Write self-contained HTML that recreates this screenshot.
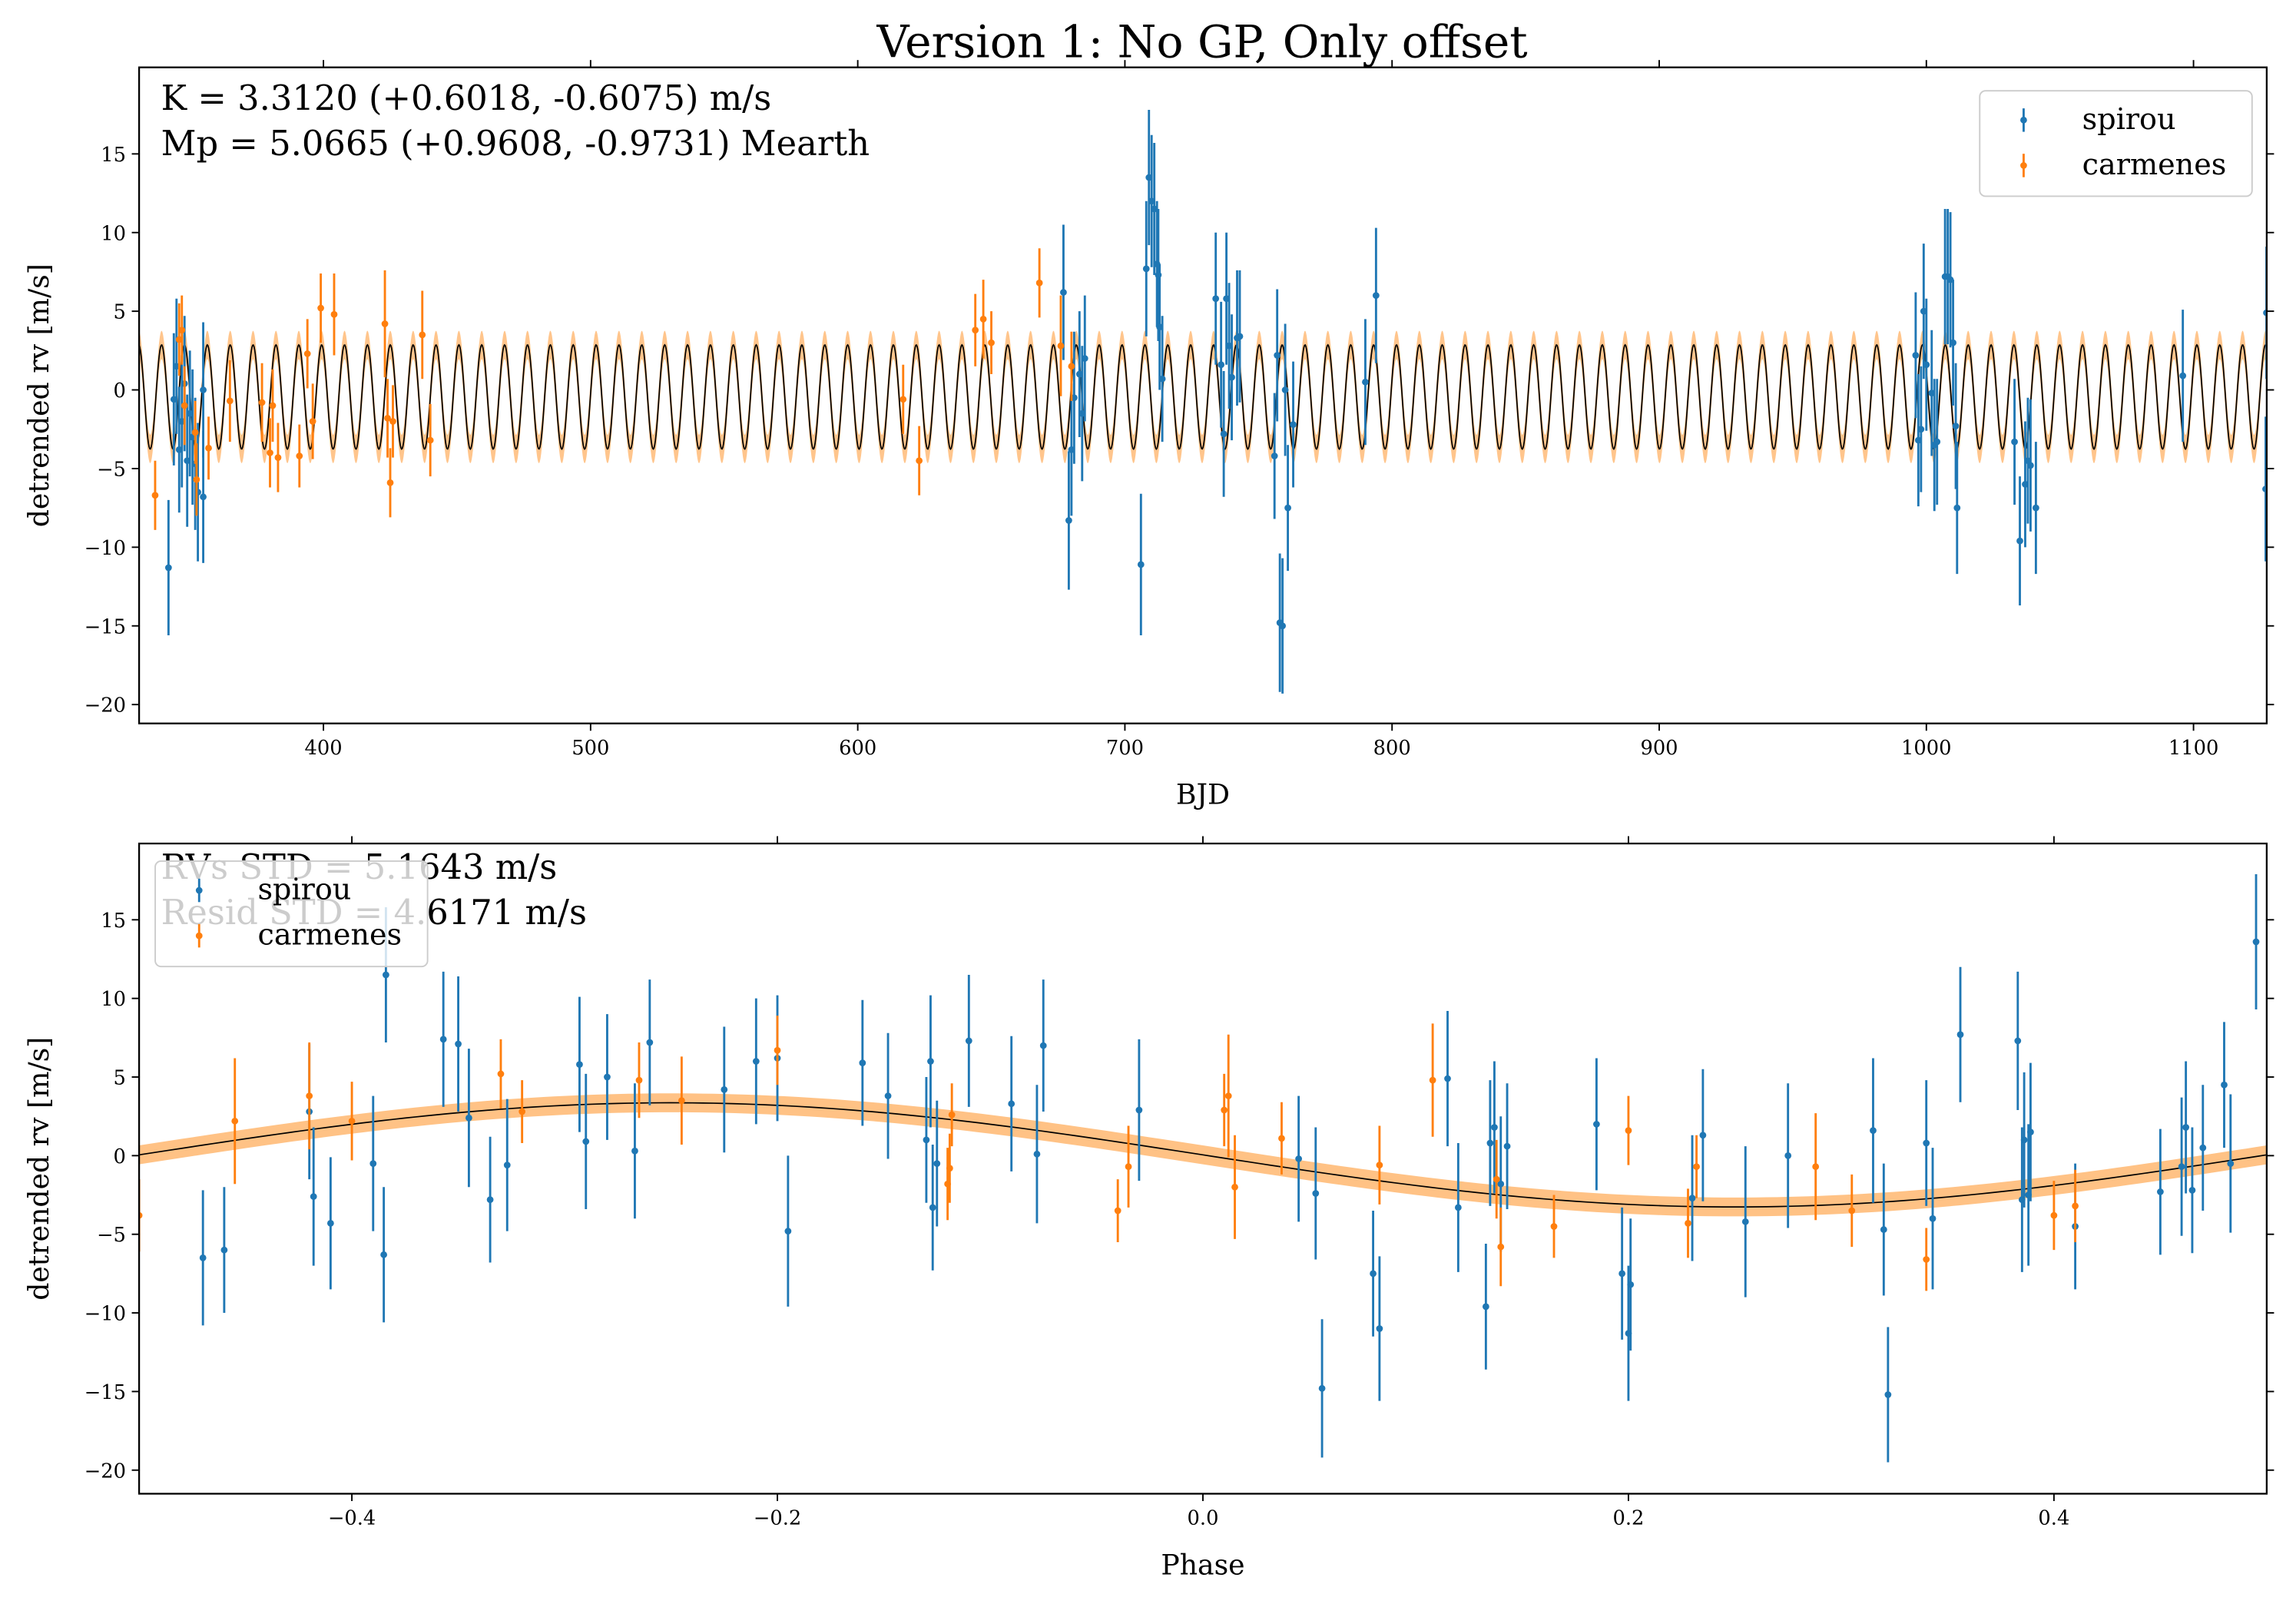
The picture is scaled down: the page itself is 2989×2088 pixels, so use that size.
<!DOCTYPE html>
<html><head><meta charset="utf-8">
<style>
html,body{margin:0;padding:0;background:#fff;}
svg{display:block;font-family:"DejaVu Serif","Liberation Serif",serif;}
</style></head>
<body>
<svg id="chart" width="2989" height="2088" viewBox="0 0 1568 1095.3" preserveAspectRatio="none" xmlns="http://www.w3.org/2000/svg">
<rect width="1568" height="1096" fill="#fff"/>
<text x="821" y="39" font-size="30.5" text-anchor="middle">Version 1: No GP, Only offset</text>
<g id="top"></g>
<g id="bot"></g>
</svg>
<script>
// ---- data ----
const xTicksTop = [400,500,600,700,800,900,1000,1100];
const yTicks = [15,10,5,0,-5,-10,-15,-20];
const xTicksPhase = [-0.4,-0.2,0.0,0.2,0.4];
const modelK = 3.312;
const modelOffset = -0.45;
const modelPeriod = 8.56;
const modelT0 = 333.0;
// spirou time series [BJD, rv, err]
const spirouTime = [[342,-11.3,4.3],[344,-0.6,4.2],[345,1.5,4.3],[346,-3.8,4],[347,-2,4.2],[348,0.4,4.3],[349,-4.5,4.2],[350,-1.5,4],[351,-3,4.3],[352,-4.7,4.2],[353,-6.5,4.4],[355,0,4.3],[355,-6.8,4.2],
[677,6.2,4.3],[679,-8.3,4.4],[680,-3.8,4.2],[681,-0.5,4.2],[683,1,4],[684,-1.5,4.3],[685,2,4],[706,-11.1,4.5],[708,7.7,4.3],[709,13.5,4.3],[710,12,4.2],[711,11.5,4.2],[712,8,4],[712.5,7.3,4.2],[713,4,4],[714,0.7,4],
[734,5.8,4.2],[736,1.6,4],[737,-2.8,4],[738,5.8,4.2],[739,2.8,4],[740,0.8,4],[742,3.3,4.3],[743,3.4,4.2],[756,-4.2,4],[757,2.2,4.2],[758,-14.8,4.4],[759,-15,4.3],[760,0,4.2],[761,-7.5,4],[763,-2.2,4],[790,0.5,4],[794,6,4.3],
[996,2.2,4],[997,-3.2,4.2],[998,-2.5,4],[999,5,4.3],[1000,1.6,4.2],[1002,-0.2,4],[1003,-3.5,4.2],[1004,-3.3,4],[1007,7.2,4.3],[1008,7.2,4.3],[1009,7,4.3],[1010,3,4],[1011,-2.3,4],[1011.5,-7.5,4.2],
[1033,-3.3,4],[1035,-9.6,4.1],[1037,-6,4],[1038,-4.5,4],[1039,-4.8,4.2],[1041,-7.5,4.2],[1096,0.9,4.2],[1127,-6.3,4.6],[1127.3,4.9,4.2]];
const carmenesTime = [[337,-6.7,2.2],[346,3.2,2.3],[347,3.8,2.2],[348,-1,2.5],[352,-2.7,2],[352.5,-5.7,2.3],[357,-3.7,2],[365,-0.7,2.6],[377,-0.8,2.5],[380,-4,2.2],[381,-1,2.3],[383,-4.3,2.2],[391,-4.2,2],[394,2.3,2.2],[396,-2,2.4],[399,5.2,2.2],[404,4.8,2.6],[423,4.2,3.4],[424,-1.8,2.5],[425,-5.9,2.2],[426,-2,2.3],[437,3.5,2.8],[440,-3.2,2.3],[617,-0.6,2.2],[623,-4.5,2.2],[644,3.8,2.3],[647,4.5,2.5],[650,3,2],[668,6.8,2.2],[676,2.8,3.2],[680,1.5,2.2]];
// phase-folded [phase, rv, err]
const spirouPhase = [[-0.47,-6.5,4.3],[-0.46,-6,4],[-0.42,2.8,4.3],[-0.418,-2.6,4.4],[-0.41,-4.3,4.2],[-0.39,-0.5,4.3],[-0.385,-6.3,4.3],[-0.384,11.5,4.3],[-0.357,7.4,4.3],[-0.35,7.1,4.3],[-0.345,2.4,4.4],[-0.335,-2.8,4],[-0.327,-0.6,4.2],[-0.293,5.8,4.3],[-0.29,0.9,4.3],[-0.28,5,4],[-0.267,0.3,4.3],[-0.26,7.2,4],[-0.225,4.2,4],[-0.21,6,4],[-0.2,6.2,4],[-0.195,-4.8,4.8],[-0.16,5.9,4],[-0.148,3.8,4],[-0.13,1,4],[-0.128,6,4.2],[-0.127,-3.3,4],[-0.125,-0.5,4],[-0.11,7.3,4.2],[-0.09,3.3,4.3],[-0.078,0.1,4.4],[-0.075,7,4.2],[-0.03,2.9,4.5],[0.045,-0.2,4],[0.053,-2.4,4.2],[0.056,-14.8,4.4],[0.08,-7.5,4],[0.083,-11,4.6],[0.115,4.9,4.3],[0.12,-3.3,4.1],[0.133,-9.6,4],[0.135,0.8,4],[0.137,1.8,4.2],[0.14,-1.8,4.3],[0.143,0.6,4],[0.185,2,4.2],[0.197,-7.5,4.2],[0.2,-11.3,4.3],[0.201,-8.2,4.2],[0.23,-2.7,4],[0.235,1.3,4.2],[0.255,-4.2,4.8],[0.275,0,4.6],[0.315,1.6,4.6],[0.32,-4.7,4.2],[0.322,-15.2,4.3],[0.34,0.8,4],[0.343,-4,4.5],[0.356,7.7,4.3],[0.383,7.3,4.4],[0.385,-2.8,4.6],[0.386,1,4.3],[0.388,-2.5,4.5],[0.389,1.5,4.4],[0.41,-4.5,4],[0.45,-2.3,4],[0.46,-0.7,4.4],[0.462,1.8,4.2],[0.465,-2.2,4],[0.47,0.5,4],[0.48,4.5,4],[0.483,-0.5,4.4],[0.495,13.6,4.3]];
const carmenesPhase = [[-0.5,-3.8,2.3],[-0.455,2.2,4],[-0.42,3.8,3.4],[-0.4,2.2,2.5],[-0.33,5.2,2.2],[-0.32,2.8,2],[-0.265,4.8,2.4],[-0.245,3.5,2.8],[-0.2,6.7,2.2],[-0.12,-1.8,2.3],[-0.119,-0.8,2.2],[-0.118,2.6,2],[-0.04,-3.5,2],[-0.035,-0.7,2.6],[0.01,2.9,2.3],[0.012,3.8,3.9],[0.015,-2,3.3],[0.037,1.1,2.3],[0.083,-0.6,2.5],[0.108,4.8,3.6],[0.138,-1.5,2.5],[0.14,-5.8,2.5],[0.165,-4.5,2],[0.2,1.6,2.2],[0.228,-4.3,2.2],[0.232,-0.7,2],[0.288,-0.7,3.4],[0.305,-3.5,2.3],[0.34,-6.6,2],[0.4,-3.8,2.2],[0.41,-3.2,2.3]];

const NS='http://www.w3.org/2000/svg';
const BLUE='#1f77b4', ORANGE='#ff7f0e';
function mk(parent,tag,attrs,text){const e=document.createElementNS(NS,tag);for(const k in attrs)e.setAttribute(k,attrs[k]);if(text!==undefined)e.textContent=text;parent.appendChild(e);return e;}

function panel(g, box, xmin, xmax, ymin, ymax, xTicks, xFmt, xLabel){
  const X=v=>box.l+(v-xmin)/(xmax-xmin)*(box.r-box.l);
  const Y=v=>box.b-(v-ymin)/(ymax-ymin)*(box.b-box.t);
  const tg=mk(g,'g',{});
  
  
  xTicks.forEach(v=>{const x=X(v);
    mk(tg,'line',{x1:x,x2:x,y1:box.b,y2:box.b+5,stroke:'#000','stroke-width':1});
    mk(tg,'line',{x1:x,x2:x,y1:box.t,y2:box.t-5,stroke:'#000','stroke-width':1});
    const t=mk(tg,'text',{x:x,y:box.b+21,'font-size':13.5,'text-anchor':'middle'},xFmt(v));
    
    
  });
  yTicks.forEach(v=>{const y=Y(v);
    mk(tg,'line',{x1:box.l,x2:box.l-5,y1:y,y2:y,stroke:'#000','stroke-width':1});
    mk(tg,'line',{x1:box.r,x2:box.r+5,y1:y,y2:y,stroke:'#000','stroke-width':1});
    const t=mk(tg,'text',{x:box.l-9,y:y+5,'font-size':13.5,'text-anchor':'end'},v<0?'\u2212'+(-v):String(v));
    
    
  });
  const xl=mk(g,'text',{x:(box.l+box.r)/2,y:box.b+55,'font-size':19,'text-anchor':'middle'},xLabel);
  
  
  const cy=(box.t+box.b)/2;
  const yl=mk(g,'text',{x:33,y:cy,'font-size':19,'text-anchor':'middle',transform:`rotate(-90 33 ${cy})`},'detrended rv [m/s]');
  
  
  return {X,Y};
}

function errPoints(g, data, X, Y, color, name, box){
  const sg=mk(g,'g',{'clip-path':`url(#${box.clip})`});
  
  
  data.forEach(d=>{const x=X(d[0]);
    const l=mk(sg,'line',{x1:x,x2:x,y1:Y(d[1]-d[2]),y2:Y(d[1]+d[2]),stroke:color,'stroke-width':1.5});
    
    
    const c=mk(sg,'circle',{cx:x,cy:Y(d[1]),r:2.3,fill:color});
    
    
  });
}

function legend(g, x, y, alpha){
  const lg=mk(g,'g',{});
  
  
  mk(lg,'rect',{x:x,y:y,width:186,height:72,rx:4,fill:'#fff','fill-opacity':alpha,stroke:'#ccc','stroke-width':1});
  [['spirou',BLUE],['carmenes',ORANGE]].forEach((s,i)=>{
    const e=mk(lg,'g',{});
    
    
    const cy=y+20+i*31;
    mk(e,'line',{x1:x+30,x2:x+30,y1:cy-8,y2:cy+8,stroke:s[1],'stroke-width':1.5});
    mk(e,'circle',{cx:x+30,cy:cy,r:2.3,fill:s[1]});
    mk(e,'text',{x:x+70,y:cy+6,'font-size':20},s[0]);
  });
}

const defs=mk(document.getElementById('chart'),'defs',{});
const c1=mk(defs,'clipPath',{id:'clipTop'});mk(c1,'rect',{x:95,y:46,width:1453,height:448});
const c2=mk(defs,'clipPath',{id:'clipBot'});mk(c2,'rect',{x:95,y:576,width:1453,height:444});

// ---- top panel ----
(function(){
  const g=document.getElementById('top');
  
  
  const box={l:95,r:1548,t:46,b:494,clip:'clipTop'};
  const {X,Y}=panel(g,box,331,1127.4,-21.2,20.5,xTicksTop,v=>String(v),'BJD');
  const model=t=>-modelK*Math.sin(2*Math.PI*(t-modelT0)/modelPeriod)+modelOffset;
  let up=[],dn=[],ln=[];
  for(let t=331;t<=1127.4;t+=0.25){up.push(X(t)+','+Y(model(t)+0.9));dn.unshift(X(t)+','+Y(model(t)-0.9));ln.push(X(t)+','+Y(model(t)));}
  const band=mk(g,'polygon',{points:up.concat(dn).join(' '),fill:'#ffbb78','fill-opacity':0.85,'clip-path':'url(#clipTop)'});
  
  
  const ml=mk(g,'polyline',{points:ln.join(' '),fill:'none',stroke:'#000','stroke-width':0.9,'clip-path':'url(#clipTop)'});
  
  
  errPoints(g,spirouTime,X,Y,BLUE,'spirou-series',box);
  errPoints(g,carmenesTime,X,Y,ORANGE,'carmenes-series',box);
  mk(g,'rect',{x:95,y:46,width:1453,height:448,fill:'none',stroke:'#000','stroke-width':1.2});
  const t1=mk(g,'text',{x:110,y:75,'font-size':23.5},'K = 3.3120 (+0.6018, -0.6075) m/s');
  
  
  const t2=mk(g,'text',{x:110,y:106,'font-size':23.5},'Mp = 5.0665 (+0.9608, -0.9731) Mearth');
  
  
  legend(g,1352,62,0.8);
})();

// ---- bottom panel ----
(function(){
  const g=document.getElementById('bot');
  
  
  const box={l:95,r:1548,t:576,b:1020,clip:'clipBot'};
  const {X,Y}=panel(g,box,-0.5,0.5,-21.5,19.85,xTicksPhase,v=>v<0?'\u2212'+(-v).toFixed(1):v.toFixed(1),'Phase');
  const model=p=>-modelK*Math.sin(2*Math.PI*p)+0.05;
  let up=[],dn=[],ln=[];
  for(let p=-0.5;p<=0.5001;p+=0.005){up.push(X(p)+','+Y(model(p)+0.6));dn.unshift(X(p)+','+Y(model(p)-0.6));ln.push(X(p)+','+Y(model(p)));}
  const band=mk(g,'polygon',{points:up.concat(dn).join(' '),fill:'#ffbb78','fill-opacity':0.9});
  
  
  const ml=mk(g,'polyline',{points:ln.join(' '),fill:'none',stroke:'#000','stroke-width':0.9});
  
  
  errPoints(g,spirouPhase,X,Y,BLUE,'spirou-series',box);
  errPoints(g,carmenesPhase,X,Y,ORANGE,'carmenes-series',box);
  mk(g,'rect',{x:95,y:576,width:1453,height:444,fill:'none',stroke:'#000','stroke-width':1.2});
  const t1=mk(g,'text',{x:110,y:600,'font-size':23.5},'RVs STD = 5.1643 m/s');
  
  
  const t2=mk(g,'text',{x:110,y:631,'font-size':23.5},'Resid STD = 4.6171 m/s');
  
  
  legend(g,106,588,0.8);
})();
</script>
</body></html>
